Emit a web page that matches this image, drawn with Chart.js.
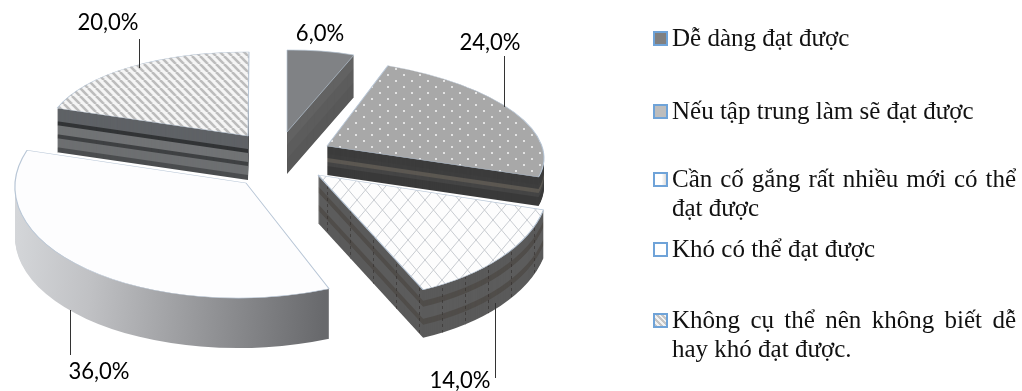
<!DOCTYPE html>
<html lang="vi">
<head>
<meta charset="utf-8">
<title>Pie chart</title>
<script src="https://cdn.jsdelivr.net/npm/chart.js@4/dist/chart.umd.min.js"></script>
<style>
    html, body { margin: 0; padding: 0; background: #fff; }
    #wrap { position: relative; width: 1022px; height: 391px; overflow: hidden; }
    #chart { filter: blur(0.4px); }
    #legend { position: absolute; left: 0; top: 0; font-family: "Liberation Serif", serif; font-size: 25px; line-height: 29px; color: #111; filter: blur(0.3px); }
    .item { position: absolute; left: 672px; width: 344px; text-align: justify; }
    .box { position: absolute; left: -19px; top: 8px; width: 11px; height: 11px; border: 2px solid #6fa3d8; }
</style>
</head>
<body>
<div id="wrap">
    <canvas id="chart" width="1022" height="391"></canvas>
    <div id="legend"></div>
</div>
<script>
const categories = [
    'Dễ dàng đạt được',
    'Nếu tập trung làm sẽ đạt được',
    'Cần cố gắng rất nhiều mới có thể đạt được',
    'Khó có thể đạt được',
    'Không cụ thể nên không biết dễ hay khó đạt được.'
];
const values = [6, 24, 14, 36, 20];
const baseColors = ['#808285', '#a9a9a9', '#ffffff', '#fdfdfe', '#c4c4c4'];

// Legend rows, top of each item
const legendTops = [23, 96, 164, 234, 305];
const legendBoxes = [
    '#808080',
    '#bdbdbd',
    'linear-gradient(90deg, #fff 60%, #ddd)',
    '#fff',
    'repeating-linear-gradient(45deg, #c4c4c4 0 2px, #f2f2f2 2px 4px)'
];

// Label anchors and leader lines, same order as values
const labelPos = [[320, 33], [490, 42], [460, 380], [99, 371], [108, 22]];
const leaders = [null, [504, 56, 504, 107], [495, 303, 495, 378], [70, 310, 70, 355], [139, 39, 139, 68]];

// 3D look: where each exploded slice lands (apex, x axis image, y axis image, extrusion)
const projection = [
    { o: [287, 132], ax: [182, -2], ay: [0, 82], depth: 42 },
    { o: [327, 146], ax: [216, 4], ay: [20, 88], depth: 29 },
    { o: [318, 175], ax: [230, -4], ay: [22, 125], depth: 48 },
    { o: [246, 183], ax: [231, -3], ay: [-2, 115], depth: 50 },
    { o: [248, 136], ax: [201, 2], ay: [-1, 84], depth: 44 }
];
const sideBands = [
    ['#626262', '#5c5c5c', '#585858'],
    ['#3c3c3c', '#3c3c3c', '#3e3e3e', '#5c5852', '#454545', '#3a3a3a', '#3a3a3a'],
    ['#5a5a5a', '#5a5a5a', '#504d4a', '#5c5c5c', '#5c5c5c', '#504d4a', '#5a5a5a', '#5a5a5a'],
    null,
    ['#5f6266', '#5f6266', '#5f6266', '#323436', '#717375', '#717375', '#3f4143', '#6d6f71', '#6d6f71', '#4b4d4f']
];
const drawOrder = [0, 4, 1, 3, 2];

function makeCell(w, h, paint) {
    const c = document.createElement('canvas');
    c.width = w;
    c.height = h;
    paint(c.getContext('2d'));
    return c;
}

const stripeCell = makeCell(8, 8, g => {
    g.fillStyle = '#f5f5f5';
    g.fillRect(0, 0, 8, 8);
    g.strokeStyle = '#bcbcbc';
    g.lineWidth = 2.6;
    for (let i = -8; i <= 8; i += 8) {
        g.beginPath();
        g.moveTo(i, 0);
        g.lineTo(i + 8, 8);
        g.stroke();
    }
});
const dotCell = makeCell(16, 12, g => {
    g.fillStyle = '#a8a8a8';
    g.fillRect(0, 0, 16, 12);
    g.fillStyle = '#e2e2e2';
    g.fillRect(3, 2, 2, 2);
    g.fillRect(11, 8, 2, 2);
});
const latticeCell = makeCell(17, 20, g => {
    g.fillStyle = '#fdfdfd';
    g.fillRect(0, 0, 17, 20);
    g.strokeStyle = '#c8ccd1';
    g.beginPath();
    g.moveTo(0, 0);
    g.lineTo(17, 20);
    g.moveTo(17, 0);
    g.lineTo(0, 20);
    g.stroke();
});
const dashCell = makeCell(23, 12, g => {
    g.fillStyle = 'rgba(50,46,44,0.7)';
    g.fillRect(5, 0, 1, 3);
    g.fillRect(5, 6, 1, 3);
});

function sliceTransform(ctx, arc, p, drop) {
    const R = arc.outerRadius;
    ctx.translate(p.o[0], p.o[1] + drop);
    ctx.transform(p.ax[0] / R, p.ax[1] / R, p.ay[0] / R, p.ay[1] / R, 0, 0);
    ctx.translate(-arc.x, -arc.y);
}

function paintArc(ctx, arc, fill, border) {
    const saved = arc.options;
    arc.options = Object.assign({}, saved, { backgroundColor: fill, borderWidth: border ? 1 : 0, borderColor: border || 'transparent' });
    arc.draw(ctx);
    arc.options = saved;
}

function screenPattern(ctx, cell) {
    const pat = ctx.createPattern(cell, 'repeat');
    pat.setTransform(ctx.getTransform().inverse());
    return pat;
}

const pie3d = {
    id: 'pie3d',
    beforeDatasetsDraw(chart) {
        const ctx = chart.ctx;
        const arcs = chart.getDatasetMeta(0).data;
        drawOrder.forEach(i => {
            const arc = arcs[i];
            const p = projection[i];
            // sides: stack the library's arc downwards, bottom row first
            for (let k = p.depth; k > 0; k--) {
                ctx.save();
                sliceTransform(ctx, arc, p, k);
                let fill;
                if (sideBands[i]) {
                    const bands = sideBands[i];
                    fill = bands[Math.min(bands.length - 1, Math.floor((k / p.depth) * bands.length))];
                } else {
                    const inv = ctx.getTransform().inverse();
                    const a = inv.transformPoint(new DOMPoint(14, 250));
                    const b = inv.transformPoint(new DOMPoint(328, 250));
                    fill = ctx.createLinearGradient(a.x, a.y, b.x, b.y);
                    fill.addColorStop(0, '#d4d6d9');
                    fill.addColorStop(0.25, '#c0c1c4');
                    fill.addColorStop(0.6, '#97989b');
                    fill.addColorStop(1, '#68696c');
                }
                paintArc(ctx, arc, fill);
                if (i === 2) paintArc(ctx, arc, screenPattern(ctx, dashCell));
                ctx.restore();
            }
            // top face
            ctx.save();
            sliceTransform(ctx, arc, p, 0);
            let top = baseColors[i];
            if (i === 1) top = screenPattern(ctx, dotCell);
            if (i === 2) top = screenPattern(ctx, latticeCell);
            if (i === 4) top = screenPattern(ctx, stripeCell);
            paintArc(ctx, arc, top, '#b8c6d6');
            ctx.restore();
        });
        return false;
    },
    // afterDatasetsDraw is skipped once the hook above cancels, so labels go here
    afterDraw(chart) {
        const ctx = chart.ctx;
        ctx.save();
        ctx.strokeStyle = '#333';
        ctx.lineWidth = 1;
        leaders.forEach(l => {
            if (!l) return;
            ctx.beginPath();
            ctx.moveTo(l[0] + 0.5, l[1]);
            ctx.lineTo(l[2] + 0.5, l[3]);
            ctx.stroke();
        });
        ctx.fillStyle = '#000';
        ctx.font = '24px Lato';
        ctx.textAlign = 'center';
        ctx.textBaseline = 'middle';
        const total = values.reduce((a, b) => a + b, 0);
        values.forEach((v, i) => {
            const txt = (v / total * 100).toFixed(1).replace('.', ',') + '%';
            // source font is narrower than Lato
            ctx.save();
            ctx.translate(labelPos[i][0], labelPos[i][1]);
            ctx.scale(0.92, 1);
            ctx.fillText(txt, 0, 0);
            ctx.restore();
        });
        ctx.restore();
    }
};

new Chart(document.getElementById('chart'), {
    type: 'pie',
    data: {
        labels: categories,
        datasets: [{ data: values, backgroundColor: baseColors, borderWidth: 0 }]
    },
    options: {
        responsive: false,
        animation: false,
        layout: { padding: 0 },
        plugins: { legend: { display: false }, tooltip: { enabled: false } }
    },
    plugins: [pie3d]
});

// Legend is plain html because the source text is justified and wrapped
const legendEl = document.getElementById('legend');
categories.forEach((name, i) => {
    const item = document.createElement('div');
    item.className = 'item';
    item.style.top = legendTops[i] + 'px';
    item.textContent = name;
    const box = document.createElement('span');
    box.className = 'box';
    box.style.background = legendBoxes[i];
    item.appendChild(box);
    legendEl.appendChild(item);
});
</script>
</body>
</html>
